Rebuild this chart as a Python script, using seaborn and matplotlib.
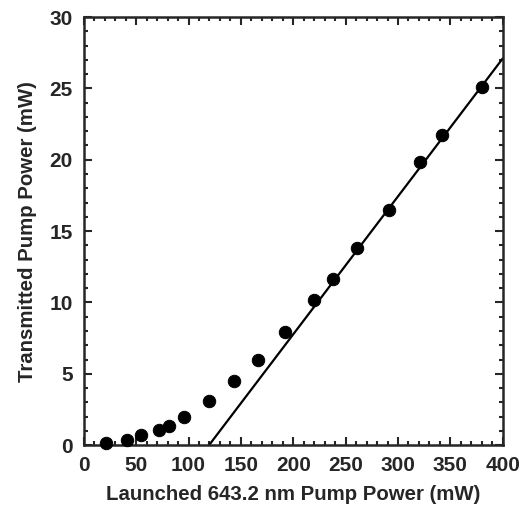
import pandas as pd
import matplotlib
matplotlib.use("Agg")
import matplotlib.pyplot as plt
import seaborn as sns
from matplotlib.ticker import MultipleLocator

# measured points
launched = [21, 41, 55, 72, 81, 96, 120, 143, 166, 192, 220, 238, 261, 291, 321, 342, 380]
transmitted = [0.15, 0.35, 0.7, 1.05, 1.35, 2.0, 3.1, 4.5, 5.95, 7.9, 10.15, 11.65, 13.8, 16.5, 19.85, 21.7, 25.1]

# linear fit line end points
fit_x = [119.6, 400]
fit_y = [0.0, 27.1]

sns.set_style("ticks")
plt.rcParams['font.family'] = ['Liberation Sans', 'DejaVu Sans']

fig = plt.figure(figsize=(5.27, 5.17), dpi=100)
ax = fig.add_axes([0.159, 0.139, 0.795, 0.828])

pts = pd.DataFrame({'x': launched, 'y': transmitted})
fit = pd.DataFrame({'x': fit_x, 'y': fit_y})

sns.lineplot(data=fit, x='x', y='y', color='black', linewidth=1.6, ax=ax)
sns.scatterplot(data=pts, x='x', y='y', color='black', s=80, edgecolor='black', ax=ax, zorder=3, clip_on=False)

ax.set_xlim(0, 400)
ax.set_ylim(0, 30)
ax.xaxis.set_major_locator(MultipleLocator(50))
ax.xaxis.set_minor_locator(MultipleLocator(10))
ax.yaxis.set_major_locator(MultipleLocator(5))
ax.yaxis.set_minor_locator(MultipleLocator(1))
ax.tick_params(which='both', direction='in', top=True, right=True, width=1.5)
ax.tick_params(which='major', length=6, labelsize=15, pad=8)
ax.tick_params(which='minor', length=3)
for lab in ax.get_xticklabels() + ax.get_yticklabels():
    lab.set_fontweight('bold')
for sp in ax.spines.values():
    sp.set_linewidth(1.8)

ax.set_xlabel("Launched 643.2 nm Pump Power (mW)", fontsize=14.7, fontweight='bold', labelpad=7)
ax.set_ylabel("Transmitted Pump Power (mW)", fontsize=14.7, fontweight='bold', labelpad=9)

plt.savefig("out.png", dpi=100)
